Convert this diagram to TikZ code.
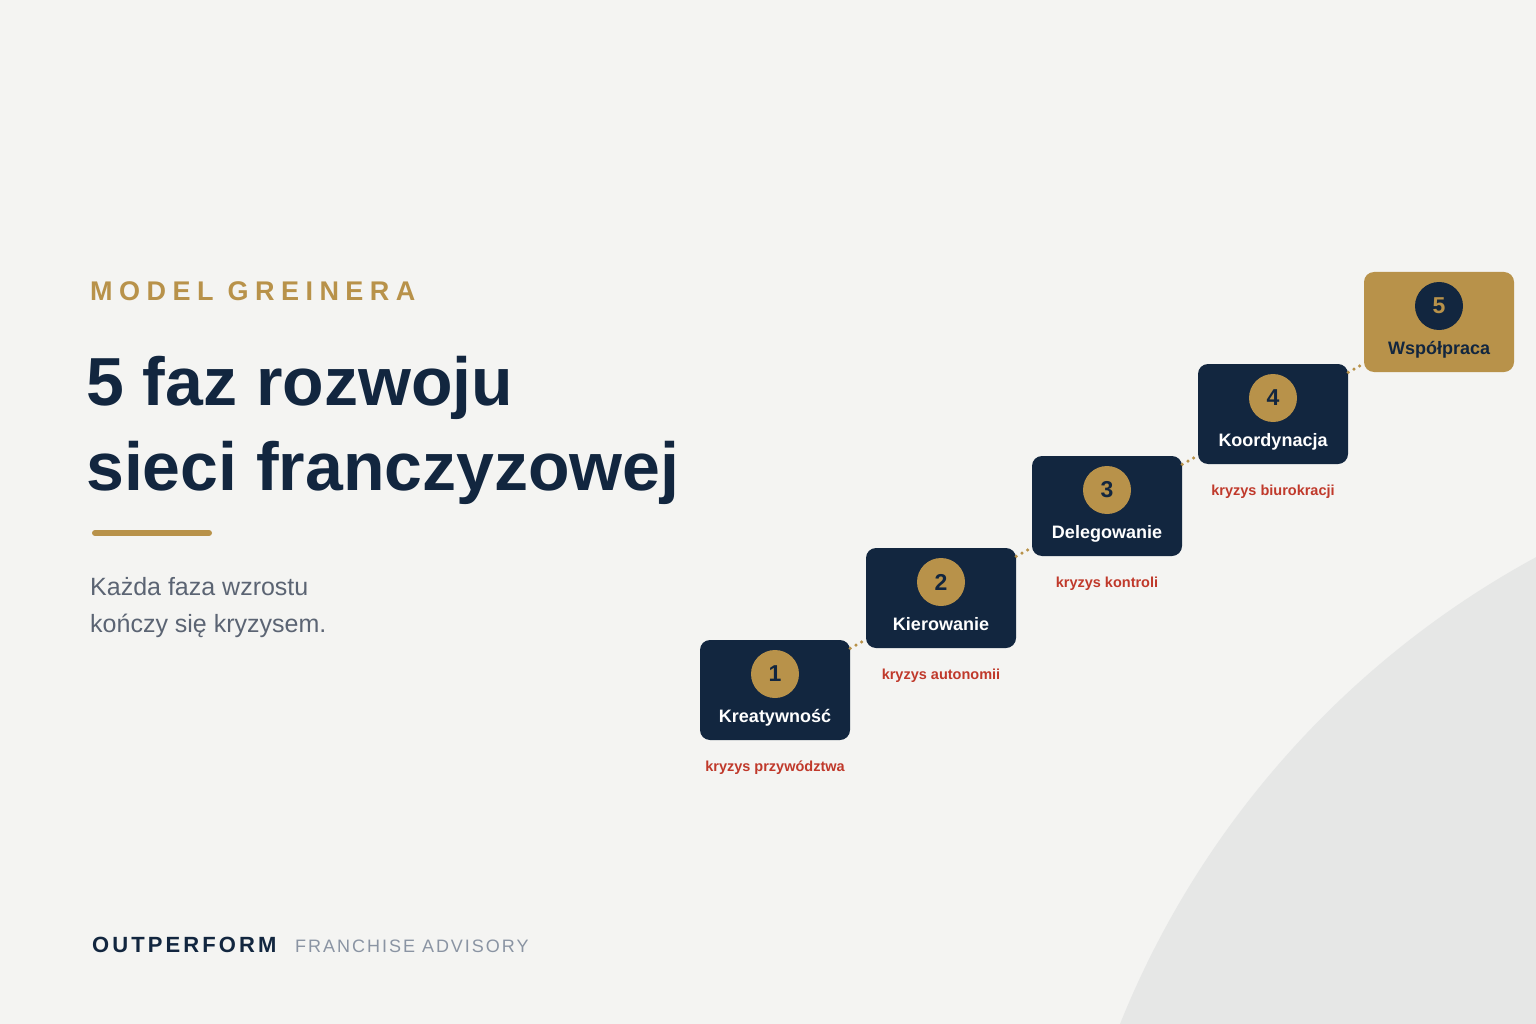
\documentclass[tikz,border=0pt]{standalone}
\usepackage{fontspec}
\setmainfont{Liberation Sans}
\definecolor{paper}{HTML}{F4F4F2}
\definecolor{arcgray}{HTML}{E6E7E6}
\definecolor{navy}{HTML}{12263F}
\definecolor{gold}{HTML}{B8924A}
\definecolor{alert}{HTML}{C0392B}
\definecolor{slate}{HTML}{5B6473}
\definecolor{mist}{HTML}{8A94A3}
\tikzset{
    stage/.style={rectangle, rounded corners=10pt, minimum width=150pt, minimum height=100pt, inner sep=0pt, fill=navy},
    badge/.style={circle, minimum size=48pt, inner sep=0pt, fill=gold, text=navy, font=\bfseries\fontsize{23pt}{23pt}\selectfont},
    stagename/.style={anchor=base, inner sep=0pt, text=white, font=\bfseries\fontsize{18pt}{18pt}\selectfont},
    crisis/.style={anchor=base, inner sep=0pt, text=alert, font=\bfseries\fontsize{14.5pt}{14.5pt}\selectfont},
    link/.style={draw=gold, line width=3.5pt, line cap=round, dash pattern=on 0pt off 6.5pt},
    plain/.style={anchor=base west, inner sep=0pt}
}
\begin{document}
\begin{tikzpicture}[x=1pt, y=-1pt]
        % page and the big arc
        \fill[paper] (0,0) rectangle (1536,1024);
        \begin{scope}
            \clip (0,0) rectangle (1536,1024);
            \fill[arcgray] (1975,1367) circle [radius=921pt];
        \end{scope}
        % left column
        \node[plain, text=gold, font=\bfseries\fontsize{27pt}{27pt}\selectfont\addfontfeature{LetterSpace=24}] (kicker) at (90,300) {MODEL GREINERA};
        \node[plain, text=navy, font=\bfseries\fontsize{68pt}{68pt}\selectfont] (title1) at (86,405) {5 faz rozwoju};
        \node[plain, text=navy, font=\bfseries\fontsize{68pt}{68pt}\selectfont] (title2) at (86,490) {sieci franczyzowej};
        \draw[gold, line width=6pt, line cap=round] (95,533) -- (209,533);
        \node[plain, text=slate, font=\fontsize{25pt}{25pt}\selectfont] (lead1) at (90,595) {Każda faza wzrostu};
        \node[plain, text=slate, font=\fontsize{25pt}{25pt}\selectfont] (lead2) at (90,632) {kończy się kryzysem.};
        \node[plain, text=navy, font=\bfseries\fontsize{22pt}{22pt}\selectfont\addfontfeature{LetterSpace=14}] (brand) at (92,952) {OUTPERFORM};
        \node[plain, text=mist, font=\fontsize{18pt}{18pt}\selectfont\addfontfeature{LetterSpace=11}] (tagline) at (295,952) {FRANCHISE ADVISORY};
        % the stairs
        \foreach \i/\x/\y/\txt/\crisis in {1/775/690/Kreatywność/kryzys przywództwa,
                2/941/598/Kierowanie/kryzys autonomii,
                3/1107/506/Delegowanie/kryzys kontroli,
                4/1273/414/Koordynacja/kryzys biurokracji}
        {
            \node[stage] (s\i) at (\x,\y) {};
            \node[badge] (n\i) at (\x,\y-16) {\i};
            \node[stagename] (t\i) at (\x,\y+32) {\txt};
            \node[crisis] (c\i) at (\x,\y+81) {\crisis};
        }
        \node[stage, fill=gold] (s5) at (1439,322) {};
        \node[badge, fill=navy, text=gold] (n5) at (1439,306) {5};
        \node[stagename, text=navy] (t5) at (1439,354) {Współpraca};
        \foreach \a/\b in {1/2,2/3,3/4,4/5}
            \draw[link] (s\a) -- (s\b);
\end{tikzpicture}
\end{document}
